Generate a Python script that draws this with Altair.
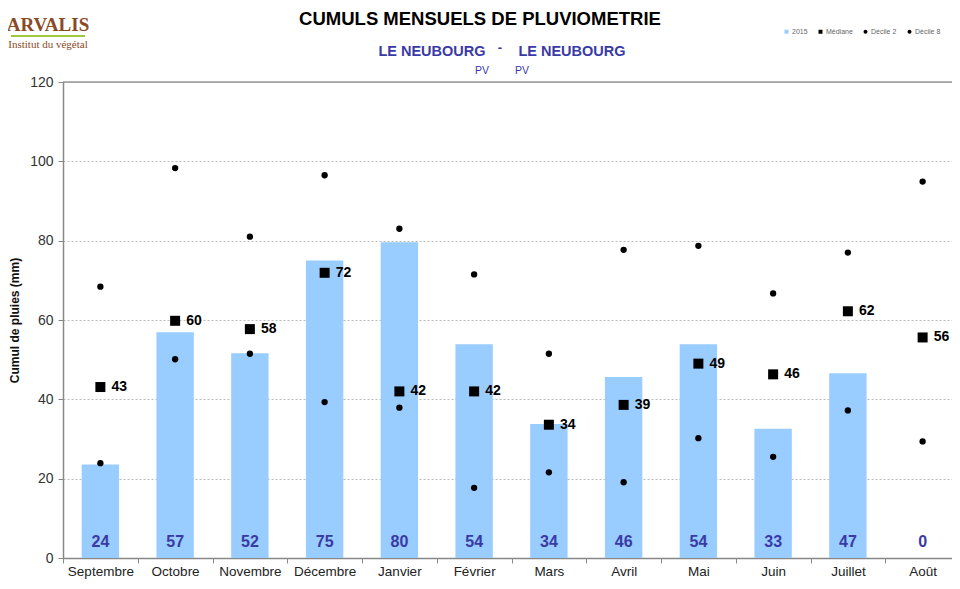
import altair as alt
import pandas as pd

# ---------------- data ----------------
mois = ["Septembre", "Octobre", "Novembre", "Décembre", "Janvier", "Février",
        "Mars", "Avril", "Mai", "Juin", "Juillet", "Août"]
pluie_2015 = [23.6, 56.9, 51.6, 75.0, 79.6, 53.9, 33.8, 45.6, 53.9, 32.6, 46.6, 0.0]
mediane = [43.1, 59.8, 57.7, 71.9, 42.0, 42.0, 33.6, 38.6, 49.0, 46.3, 62.2, 55.6]
decile_2 = [23.9, 50.1, 51.5, 39.3, 37.9, 17.7, 21.6, 19.1, 30.2, 25.5, 37.2, 29.4]
decile_8 = [68.4, 98.3, 81.0, 96.5, 83.0, 71.5, 51.5, 77.7, 78.7, 66.7, 77.0, 94.9]
series = ["2015", "Médiane", "Décile 2", "Décile 8"]
y_ticks = [0, 20, 40, 60, 80, 100, 120]

FONT = "Liberation Sans"
BLUE_TXT = "#3a3aa6"
PLOT_W = 889      # visible part of the plot inside the page
X_RANGE = 897     # full extent of the month axis (runs slightly past the page edge)
PLOT_H = 476

df_bar = pd.DataFrame({"mois": mois, "valeur": pluie_2015, "serie": "2015"})
df_med = pd.DataFrame({"mois": mois, "valeur": mediane, "serie": "Médiane"})
df_dec = pd.concat([
    pd.DataFrame({"mois": mois, "valeur": decile_2, "serie": "Décile 2"}),
    pd.DataFrame({"mois": mois, "valeur": decile_8, "serie": "Décile 8"}),
], ignore_index=True)

color_scale = alt.Scale(domain=series, range=["#99ccff", "#000000", "#000000", "#000000"])
shape_scale = alt.Scale(domain=series, range=["square", "square", "circle", "circle"])

legend = alt.Legend(
    title=None, orient="none", legendX=720, legendY=-54, direction="horizontal",
    labelFontSize=7, labelColor="#666", labelFont=FONT, symbolSize=16,
    labelOffset=2, columnPadding=9, padding=0, symbolStrokeWidth=0,
)

x_scale = alt.Scale(paddingInner=0, paddingOuter=0, range=[0, X_RANGE])
x_enc = alt.X(
    "mois:N", sort=mois, title=None, scale=x_scale,
    axis=alt.Axis(labelAngle=0, labelFont=FONT, labelFontSize=13.5, labelColor="#222",
                  tickBand="extent", tickSize=5, tickColor="#888", labelPadding=1,
                  domainColor="#888", domainWidth=1.5, grid=False),
)
y_scale = alt.Scale(domain=[0, 120], nice=False)
y_axis = alt.Axis(values=y_ticks, title="Cumul de pluies (mm)", titleFont=FONT,
                  titleFontSize=12, titleFontWeight="bold", titleColor="#111",
                  titlePadding=8, labelFont=FONT, labelFontSize=14, labelColor="#333",
                  tickSize=5, tickColor="#888", labelPadding=5,
                  domainColor="#888", domainWidth=1.5,
                  grid=True, gridColor="#bbbbbb", gridDash=[2, 2], gridWidth=1)

bars = alt.Chart(df_bar).mark_bar(width=alt.RelativeBandSize(0.5)).encode(
    x=x_enc,
    y=alt.Y("valeur:Q", scale=y_scale, axis=y_axis),
    color=alt.Color("serie:N", scale=color_scale, legend=legend),
)

bar_labels = alt.Chart(df_bar).mark_text(
    font=FONT, fontSize=16, fontWeight="bold", color=BLUE_TXT, dy=-16, baseline="middle"
).encode(
    x=alt.X("mois:N", sort=mois, scale=x_scale),
    y=alt.datum(0),
    text=alt.Text("valeur:Q", format=".0f"),
)

med_points = alt.Chart(df_med).mark_point(filled=True, opacity=1, size=100).encode(
    x=alt.X("mois:N", sort=mois, scale=x_scale),
    y=alt.Y("valeur:Q", scale=y_scale),
    color=alt.Color("serie:N", scale=color_scale, legend=legend),
    shape=alt.Shape("serie:N", scale=shape_scale, legend=legend),
)

dec_points = alt.Chart(df_dec).mark_point(filled=True, opacity=1, size=40).encode(
    x=alt.X("mois:N", sort=mois, scale=x_scale),
    y=alt.Y("valeur:Q", scale=y_scale),
    color=alt.Color("serie:N", scale=color_scale, legend=legend),
    shape=alt.Shape("serie:N", scale=shape_scale, legend=legend),
)

med_labels = alt.Chart(df_med).mark_text(
    font=FONT, fontSize=14, fontWeight="bold", color="#000", align="left", dx=11,
    baseline="middle"
).encode(
    x=alt.X("mois:N", sort=mois, scale=x_scale),
    y=alt.Y("valeur:Q", scale=y_scale),
    text=alt.Text("valeur:Q", format=".0f"),
)

# solid top border of the plot area (at 120 mm)
top_line = alt.Chart(pd.DataFrame({"v": [120]})).mark_rule(
    color="#999", strokeWidth=1.5
).encode(y=alt.Y("v:Q", scale=y_scale), x=alt.value(0), x2=alt.value(X_RANGE))


# ---------------- titles & logo ----------------
def txt(s, x, y, size, color, weight="normal", font=FONT, align="center"):
    return alt.Chart(pd.DataFrame({"t": [s]})).mark_text(
        font=font, fontSize=size, fontWeight=weight, color=color, align=align,
        baseline="middle"
    ).encode(x=alt.value(x), y=alt.value(y), text="t:N")


decor = [
    txt("CUMULS MENSUELS DE PLUVIOMETRIE", 417, -63, 18.5, "#000", "bold"),
    txt("LE NEUBOURG", 369, -30, 14.5, BLUE_TXT, "bold"),
    txt("-", 437, -34, 13, BLUE_TXT, "bold"),
    txt("LE NEUBOURG", 509, -30, 14.5, BLUE_TXT, "bold"),
    txt("PV", 419, -11, 10.5, BLUE_TXT),
    txt("PV", 459, -11, 10.5, BLUE_TXT),
    txt("ARVALIS", -15, -57, 19, "#8b4a26", "bold", font="Liberation Serif"),
    txt("Institut du végétal", -15, -37, 11, "#8b4a26", font="Liberation Serif"),
    alt.Chart(pd.DataFrame({"t": [0]})).mark_rule(color="#9ccc3c", strokeWidth=2).encode(
        x=alt.value(-52), x2=alt.value(22), y=alt.value(-46)),
]

chart = alt.layer(top_line, bars, bar_labels, dec_points, med_points, med_labels,
                  *decor).properties(
    width=PLOT_W, height=PLOT_H,
    autosize=alt.AutoSizeParams(type="none"),
    padding={"left": 55, "top": 74, "right": 0, "bottom": 23},
).configure_view(stroke=None).configure(font=FONT)

chart.save("out.html", embed_options={"renderer": "svg", "actions": False})
